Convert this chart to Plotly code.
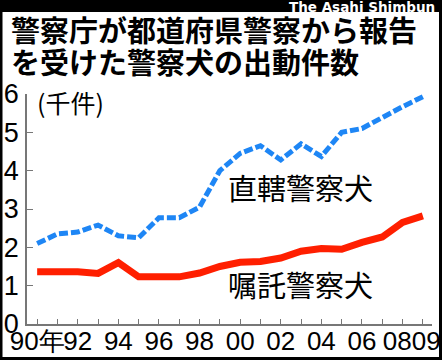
import plotly.graph_objects as go

years = list(range(1990, 2010))
chokkatsu = [2.1, 2.35, 2.4, 2.58, 2.3, 2.25, 2.77, 2.77, 3.05, 4.0,
             4.45, 4.65, 4.28, 4.7, 4.37, 5.0, 5.1, 5.4, 5.67, 5.93]
shokutaku = [1.36, 1.37, 1.36, 1.32, 1.6, 1.23, 1.22, 1.23, 1.33, 1.5,
             1.61, 1.63, 1.72, 1.9, 1.97, 1.95, 2.13, 2.27, 2.65, 2.82]
tick_years = [1990, 1992, 1994, 1996, 1998, 2000, 2002, 2004, 2006, 2008.45]
tick_text = ["90年", "92", "94", "96", "98", "00", "02", "04", "06", "0809"]
y_ticks = [0, 1, 2, 3, 4, 5, 6]

W, H = 442, 360
L, R, T, B = 27, 10, 94, 36
pw, ph = W - L - R, H - T - B

def px(x):
    return (x - L) / pw

def py(y):
    return (H - B - y) / ph

fig = go.Figure()
fig.add_trace(go.Scatter(x=years, y=chokkatsu, mode="lines",
                         line=dict(color="#1e86f5", width=5, dash="9px,3px"),
                         cliponaxis=False))
fig.add_trace(go.Scatter(x=years, y=shokutaku, mode="lines",
                         line=dict(color="#ff1f00", width=7),
                         cliponaxis=False))

jp = "Noto Sans CJK JP"
ann = []
# black header band
ann.append(dict(x=px(0), y=py(0), xref="paper", yref="paper", xanchor="left",
                yanchor="top", text=" ", showarrow=False,
                width=W, height=12, bgcolor="black", borderpad=0, borderwidth=0,
                font=dict(family="DejaVu Sans", size=8, color="black")))
ann.append(dict(x=px(437), y=py(6.5), xref="paper", yref="paper", xanchor="right",
                yanchor="middle", text="<b>The Asahi Shimbun</b>", showarrow=False,
                font=dict(family="DejaVu Sans", size=13.5, color="white")))
ann.append(dict(x=px(9), y=py(29.5), xref="paper", yref="paper", xanchor="left",
                yanchor="middle", text="<b>警察庁が都道府県警察から報告</b>", showarrow=False,
                font=dict(family=jp, size=29, color="black")))
ann.append(dict(x=px(9), y=py(60.5), xref="paper", yref="paper", xanchor="left",
                yanchor="middle", text="<b>を受けた警察犬の出動件数</b>", showarrow=False,
                font=dict(family=jp, size=29, color="black")))
ann.append(dict(x=px(35), y=py(102), xref="paper", yref="paper", xanchor="left",
                yanchor="middle", text="(千件)", showarrow=False,
                font=dict(family=jp, size=25, color="black")))
ann.append(dict(x=px(300), y=py(187), xref="paper", yref="paper", xanchor="center",
                yanchor="middle", text="直轄警察犬", showarrow=False,
                font=dict(family=jp, size=29, color="black")))
ann.append(dict(x=px(300), y=py(284), xref="paper", yref="paper", xanchor="center",
                yanchor="middle", text="嘱託警察犬", showarrow=False,
                font=dict(family=jp, size=29, color="black")))

shapes = [
    dict(type="rect", xref="paper", yref="paper", x0=px(0), x1=px(W), y0=py(12), y1=py(0),
         fillcolor="black", line=dict(width=0), layer="above"),
    dict(type="rect", xref="paper", yref="paper", x0=px(1), x1=px(W - 1.5), y0=py(H - 1.5), y1=py(1),
         fillcolor="rgba(0,0,0,0)", line=dict(color="black", width=3), layer="above"),
]

fig.update_layout(
    width=W, height=H,
    margin=dict(l=L, r=R, t=T, b=B, autoexpand=False),
    paper_bgcolor="white", plot_bgcolor="white",
    showlegend=False,
    annotations=ann, shapes=shapes,
    xaxis=dict(range=[1989.5, 2009.45], showgrid=False, zeroline=False,
               showline=True, linecolor="#777777", linewidth=1.5,
               ticks="", tickmode="array", tickvals=tick_years, ticktext=tick_text,
               tickangle=0, automargin=False, ticklabelstandoff=-7,
               ticklabeloverflow="allow",
               tickfont=dict(family="Liberation Sans", size=26, color="black"),
               minor=dict(ticks="inside", ticklen=5, tickcolor="#777777", tickwidth=1,
                          tickmode="array", tickvals=years)),
    yaxis=dict(range=[0, 6], showgrid=False, zeroline=False,
               showline=True, linecolor="#777777", linewidth=1.5,
               ticks="inside", ticklen=6, tickcolor="#777777", tickwidth=1,
               tickvals=y_ticks, ticklabelstandoff=1, automargin=False,
               tickfont=dict(family="Liberation Sans", size=27, color="black")),
)

fig.write_html("out.html", config={"displayModeBar": False},
               post_script="document.body.style.margin='0';document.body.style.padding='0';document.body.style.overflow='hidden';")
